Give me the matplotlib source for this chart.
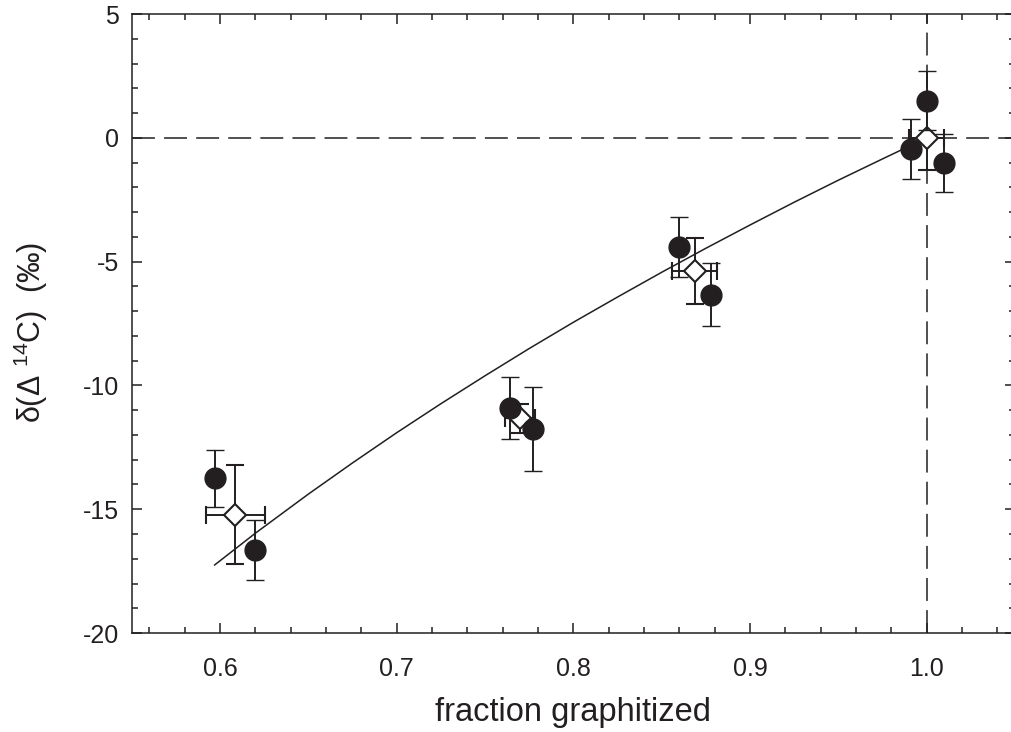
import matplotlib
matplotlib.use("Agg")
import matplotlib.pyplot as plt
from matplotlib.ticker import MultipleLocator, FormatStrFormatter

plt.rcParams['font.family'] = ['Liberation Sans', 'DejaVu Sans']
plt.rcParams['mathtext.fontset'] = 'custom'
plt.rcParams['mathtext.rm'] = 'Liberation Sans'
plt.rcParams['mathtext.it'] = 'Liberation Sans'

INK = '#231f20'

# individual measurements (filled circles)
meas_x = [0.597, 0.620, 0.764, 0.777, 0.860, 0.878, 0.991, 1.000, 1.010]
meas_y = [-13.75, -16.65, -10.90, -11.76, -4.40, -6.34, -0.45, 1.50, -1.00]
meas_yerr = [1.15, 1.20, 1.25, 1.68, 1.20, 1.27, 1.20, 1.20, 1.17]

# group means (open diamonds)
mean_x = [0.6086, 0.770, 0.8688, 1.000]
mean_y = [-15.23, -11.33, -5.37, 0.00]
mean_xerr = [0.0167, 0.0085, 0.0127, 0.010]
mean_yerr = [2.00, 0.60, 1.34, 1.30]

# fitted fractionation curve
fit_x = [0.597, 0.620, 0.650, 0.675, 0.700, 0.725, 0.750, 0.775, 0.800,
         0.825, 0.850, 0.875, 0.900, 0.925, 0.950, 0.975, 1.000]
fit_y = [-17.25, -15.97, -14.39, -13.13, -11.91, -10.74, -9.61, -8.51, -7.45,
         -6.43, -5.43, -4.46, -3.52, -2.60, -1.71, -0.85, 0.00]

fig = plt.figure(figsize=(10.11, 7.32), dpi=100)
ax = fig.add_axes([0.1302, 0.1352, 0.8738, 0.8456])

ax.set_xlim(0.55, 1.05)
ax.set_ylim(-20, 5)

# reference lines
ax.axhline(0, color=INK, lw=1.1, ls=(0, (15, 6)), zorder=1)
ax.axvline(1.0, color=INK, lw=1.1, ls=(0, (15, 6)), zorder=1)

ax.plot(fit_x, fit_y, color=INK, lw=1.1, zorder=1.5)

ax.errorbar(mean_x, mean_y, xerr=mean_xerr, yerr=mean_yerr, fmt='D',
            ms=11.2, mfc='white', mec=INK, mew=1.5, ecolor=INK,
            elinewidth=1.4, capsize=6.5, capthick=1.4, zorder=2)

ax.errorbar(meas_x, meas_y, yerr=meas_yerr, fmt='o',
            ms=15, mfc=INK, mec=INK, mew=1, ecolor=INK,
            elinewidth=1.4, capsize=6.5, capthick=1.4, zorder=3)

ax.xaxis.set_major_locator(MultipleLocator(0.1))
ax.xaxis.set_minor_locator(MultipleLocator(0.02))
ax.yaxis.set_major_locator(MultipleLocator(5))
ax.yaxis.set_minor_locator(MultipleLocator(1))
ax.xaxis.set_major_formatter(FormatStrFormatter('%.1f'))
ax.yaxis.set_major_formatter(FormatStrFormatter('%d'))

ax.tick_params(which='both', direction='in', top=True, right=True,
               color=INK, width=1.1, labelcolor=INK, labelsize=18)
ax.tick_params(which='major', length=7)
ax.tick_params(which='minor', length=4.3)
ax.tick_params(axis='x', pad=17)
ax.tick_params(axis='y', pad=9)

for sp in ax.spines.values():
    sp.set_linewidth(1.1)
    sp.set_color(INK)

ax.set_xlabel('fraction graphitized', fontsize=23.5, color=INK)
ax.set_ylabel(r'δ(Δ $^{14}$C)  (‰)', fontsize=22, color=INK)
ax.xaxis.set_label_coords(0.5, -0.103)
ax.yaxis.set_label_coords(-0.092, 0.485)

fig.savefig('out.png', dpi=100)
